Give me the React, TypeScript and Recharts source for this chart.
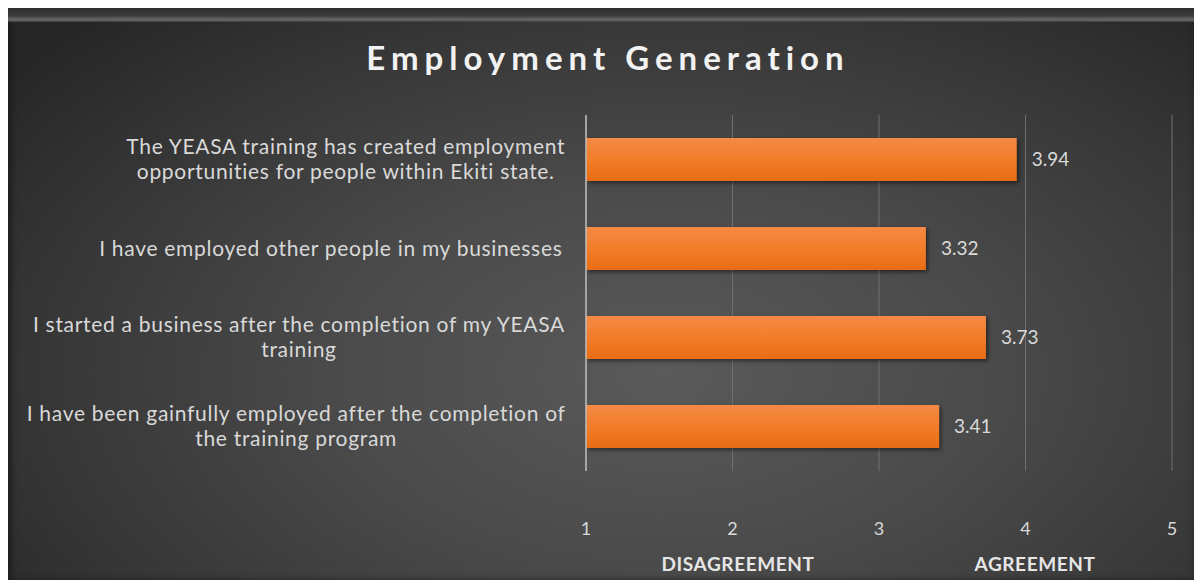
import { BarChart, Bar, XAxis, YAxis, CartesianGrid, LabelList } from 'recharts'

// statements (wrapped the way the original chart wraps them)
const statements = [
  ['The YEASA training has created employment', 'opportunities for people within Ekiti state.'],
  ['I have employed other people in my businesses '],
  ['I started a business after the completion of my YEASA', 'training'],
  ['I have been gainfully employed after the completion of', 'the training program'],
]

// mean scores
const scores = [3.94, 3.32, 3.73, 3.41]

const xTicks = [1, 2, 3, 4, 5]

const data = statements.map((lines, i) => ({ name: lines.join(' '), lines, score: scores[i] }))

const font = 'Lato, "Open Sans", sans-serif'
const textColor = '#d9d9d9'
const labelSize = 21
const labelSpacing = 0.7

let canvas: HTMLCanvasElement | null = null
const measure = (s: string, size: number) => {
  if (!canvas) canvas = document.createElement('canvas')
  const ctx = canvas.getContext('2d')
  if (!ctx) return s.length * size * 0.5
  ctx.font = `${size}px Lato`
  return ctx.measureText(s).width + s.length * labelSpacing
}

const CategoryTick = ({ x, y, payload, index }: any) => {
  const lines: string[] = data[index]?.lines ?? [payload.value]
  const lineH = 25
  const widest = Math.max(...lines.map((l) => measure(l, labelSize)))
  const cx = x - widest / 2
  const top = y - ((lines.length - 1) * lineH) / 2
  return (
    <text
      x={cx}
      y={top}
      textAnchor="middle"
      fill={textColor}
      fontSize={labelSize}
      fontFamily={font}
      letterSpacing={labelSpacing}
    >
      {lines.map((l, i) => (
        <tspan key={i} x={cx} y={top + i * lineH} dy="0.35em">
          {l}
        </tspan>
      ))}
    </text>
  )
}

const noteStyle = {
  position: 'absolute' as const,
  top: 556,
  transform: 'translate(-50%, -50%)',
  color: '#e6e6e6',
  fontWeight: 700,
  fontSize: 19,
  lineHeight: '22px',
  letterSpacing: 0.6,
  whiteSpace: 'nowrap' as const,
}

export default function App() {
  return (
    <div
      style={{
        position: 'relative',
        width: 1194,
        height: 572,
        background:
          'radial-gradient(ellipse 70% 85% at 55% 64%, #5a5a5a 0%, #4a4a4a 40%, #363636 75%, #262626 100%)',
        boxShadow: 'inset 6px 0 6px -3px #1c1c1c, inset -8px 0 8px -3px #1c1c1c',
        fontFamily: font,
        overflow: 'hidden',
      }}
    >
      <div
        style={{
          position: 'absolute',
          left: 0,
          top: 0,
          right: 0,
          height: 14,
          background: 'linear-gradient(#2e2e2e, #3c3c3c 55%, #6a6a6a 85%, #3a3a3a)',
        }}
      />
      <div
        style={{
          position: 'absolute',
          left: 6,
          right: 0,
          top: 29,
          textAlign: 'center',
          color: '#f2f2f2',
          fontSize: 33,
          fontWeight: 700,
          letterSpacing: 6,
        }}
      >
        Employment Generation
      </div>

      <svg width={0} height={0} style={{ position: 'absolute' }}>
        <defs>
          <linearGradient id="barFill" x1="0" y1="0" x2="0" y2="1">
            <stop offset="0%" stopColor="#f48a45" />
            <stop offset="50%" stopColor="#f27d2a" />
            <stop offset="100%" stopColor="#e86c14" />
          </linearGradient>
          <filter id="barShadow" x="-5%" y="-20%" width="110%" height="150%">
            <feDropShadow dx="2" dy="2" stdDeviation="2" floodColor="#000" floodOpacity="0.5" />
          </filter>
        </defs>
      </svg>

      <BarChart
        width={1194}
        height={572}
        data={data}
        layout="vertical"
        margin={{ top: 107, right: 30, bottom: 49, left: 0 }}
        barSize={43}
        style={{ position: 'absolute', left: 0, top: 0 }}
      >
        <CartesianGrid horizontal={false} vertical stroke="#707070" strokeWidth={1} />
        <XAxis
          type="number"
          domain={[1, 5]}
          ticks={xTicks}
          axisLine={false}
          tickLine={false}
          tickSize={0}
          tickMargin={51}
          height={60}
          tick={{ fill: textColor, fontSize: 18, fontFamily: font }}
        />
        <YAxis
          type="category"
          dataKey="name"
          width={578}
          axisLine={{ stroke: '#bdbdbd', strokeWidth: 1.5 }}
          tickLine={false}
          tickSize={0}
          tickMargin={20}
          interval={0}
          tick={<CategoryTick />}
        />
        <Bar
          dataKey="score"
          fill="url(#barFill)"
          filter="url(#barShadow)"
          isAnimationActive={false}
        >
          <LabelList
            dataKey="score"
            position="right"
            offset={15}
            fill={textColor}
            fontSize={19}
            fontFamily={font}
            formatter={(v: any) => Number(v).toFixed(2)}
          />
        </Bar>
      </BarChart>

      <div style={{ ...noteStyle, left: 730 }}>DISAGREEMENT</div>
      <div style={{ ...noteStyle, left: 1027 }}>AGREEMENT</div>
    </div>
  )
}
